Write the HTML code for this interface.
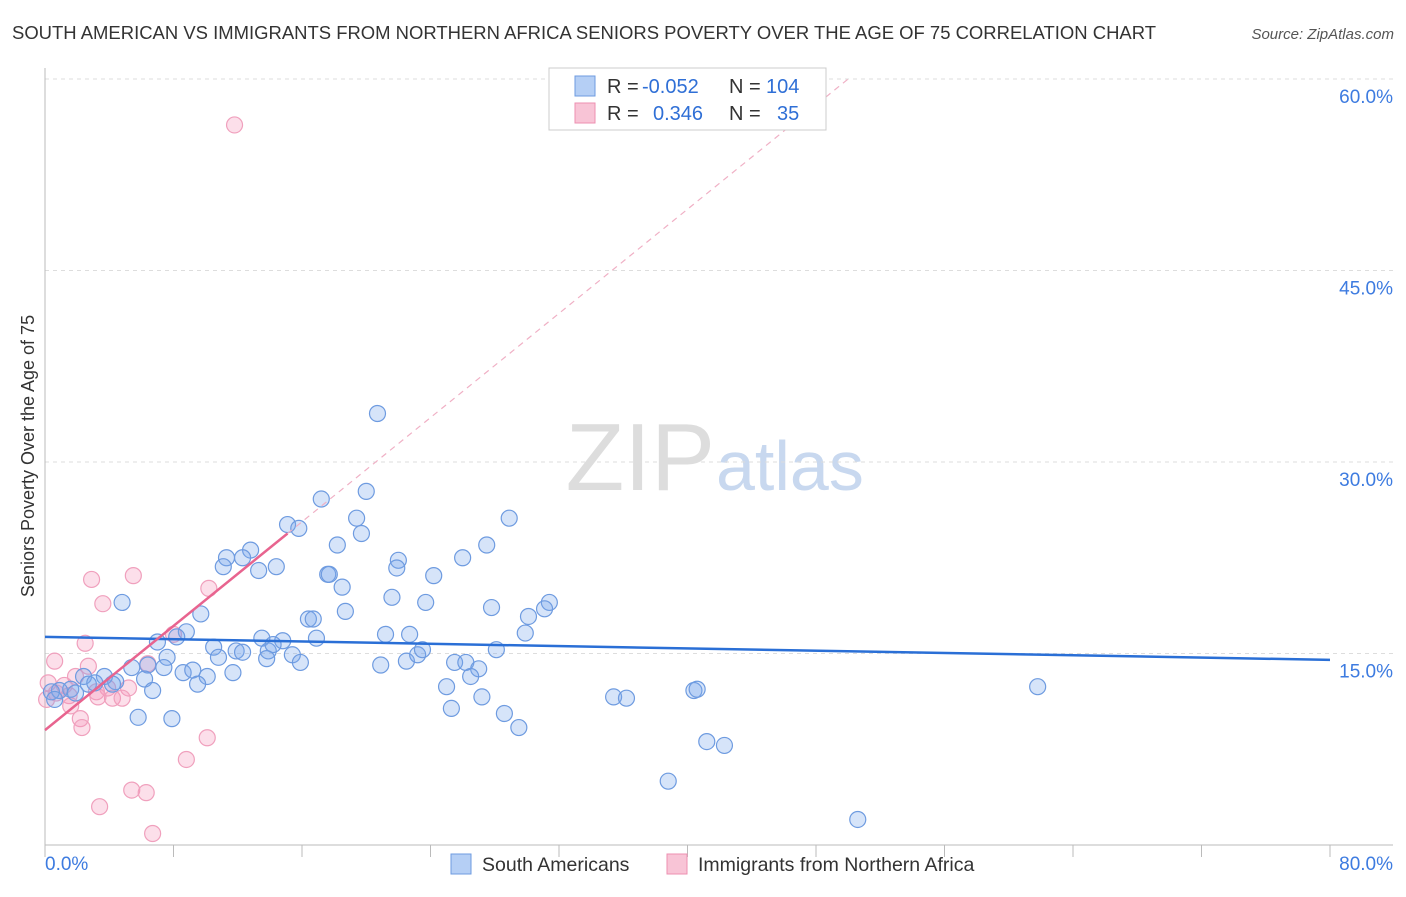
<!DOCTYPE html>
<html><head><meta charset="utf-8"><style>
body{margin:0;background:#fff;font-family:"Liberation Sans",sans-serif;}
svg text{font-family:"Liberation Sans",sans-serif;}
</style></head><body>
<svg id="chart" width="1406" height="892">
<text x="12" y="39" font-size="18" fill="#333" textLength="1144" lengthAdjust="spacingAndGlyphs">SOUTH AMERICAN VS IMMIGRANTS FROM NORTHERN AFRICA SENIORS POVERTY OVER THE AGE OF 75 CORRELATION CHART</text>
<text x="1394" y="39" font-size="15" fill="#555" text-anchor="end" font-style="italic">Source: ZipAtlas.com</text>
<text x="34" y="456" font-size="18" fill="#333" text-anchor="middle" transform="rotate(-90 34 456)">Seniors Poverty Over the Age of 75</text>
<text x="715" y="490" font-size="96" fill="#ddd" text-anchor="end" font-family="Liberation Serif">ZIP</text>
<text x="716" y="490" font-size="70" fill="#c8d8ef">atlas</text>
<g id="grid"></g><g id="axes"></g><g id="marks"></g>
<g>
<rect x="549" y="68" width="277" height="62" fill="#fff" stroke="#ccc"/>
<rect x="575" y="76" width="20" height="20" fill="#b5cff5" stroke="#6e9be0"/>
<rect x="575" y="103" width="20" height="20" fill="#f8c4d6" stroke="#ee8fb0"/>
<text x="607" y="93" font-size="20" fill="#333">R = <tspan fill="#2f6fd6" x="642">-0.052</tspan></text>
<text x="729" y="93" font-size="20" fill="#333">N = <tspan fill="#2f6fd6" x="766">104</tspan></text>
<text x="607" y="120" font-size="20" fill="#333">R = <tspan fill="#2f6fd6" x="653">0.346</tspan></text>
<text x="729" y="120" font-size="20" fill="#333">N = <tspan fill="#2f6fd6" x="777">35</tspan></text>
</g>
<g>
<rect x="451" y="854" width="20" height="20" fill="#b5cff5" stroke="#6e9be0"/>
<text x="482" y="871" font-size="19.5" fill="#333">South Americans</text>
<rect x="667" y="854" width="20" height="20" fill="#f8c4d6" stroke="#ee8fb0"/>
<text x="698" y="871" font-size="19.5" fill="#333">Immigrants from Northern Africa</text>
</g>
</svg>
<script>
const blueX=[20.7,17.2,20.0,15.1,15.8,19.4,19.7,28.9,18.2,27.5,26.0,22.0,11.3,12.8,12.3,11.1,13.3,14.4,17.6,17.7,21.9,24.2,18.5,21.6,23.7,4.8,18.7,27.8,31.4,31.1,30.1,16.4,16.7,9.7,8.8,8.2,7.0,13.5,14.8,16.9,21.2,22.7,29.9,10.5,11.9,12.3,13.9,14.2,15.4,15.9,13.8,10.8,7.6,6.4,5.4,7.4,8.6,9.2,11.7,10.1,9.5,6.2,20.9,22.5,23.2,23.5,25.5,26.2,27.0,26.5,28.1,25.0,27.2,25.3,28.6,29.5,35.4,36.2,40.4,40.6,41.2,42.3,38.8,50.6,61.8,5.8,7.9,6.7,4.4,3.7,2.4,2.7,3.1,1.6,0.9,0.4,0.6,1.9,4.2];
const blueY=[33.8,27.1,27.7,25.1,24.8,25.6,24.4,25.6,23.5,23.5,22.5,22.3,22.5,23.1,22.5,21.8,21.5,21.8,21.2,21.2,21.7,21.1,20.2,19.4,19.0,19.0,18.3,18.6,19.0,18.5,17.9,17.7,17.7,18.1,16.7,16.3,15.9,16.2,16.0,16.2,16.5,16.5,16.6,15.5,15.2,15.1,15.2,15.7,14.9,14.3,14.6,14.7,14.7,14.1,13.9,13.9,13.5,13.7,13.5,13.2,12.6,13.0,14.1,14.4,14.9,15.3,14.3,14.3,13.8,13.2,15.3,12.4,11.6,10.7,10.3,9.2,11.6,11.5,12.1,12.2,8.1,7.8,5.0,2.0,12.4,10.0,9.9,12.1,12.8,13.2,13.2,12.6,12.7,12.2,12.1,12.0,11.4,11.9,12.6];
const pinkX=[11.8,2.9,5.5,10.2,3.6,2.5,8.0,0.6,2.7,6.4,1.9,0.2,1.2,0.7,1.5,3.2,3.9,5.2,4.2,4.8,3.3,2.2,2.3,1.6,10.1,8.8,5.4,6.3,3.4,6.7,0.1];
const pinkY=[56.4,20.8,21.1,20.1,18.9,15.8,16.5,14.4,14.0,14.2,13.2,12.7,12.5,11.9,11.7,12.0,12.3,12.3,11.5,11.5,11.6,9.9,9.2,10.9,8.4,6.7,4.3,4.1,3.0,0.9,11.4];
const yTicks=[15,30,45,60];
const blueTrend=[16.3,14.5];
const pinkTrend=[9.0,1.02];
const NS="http://www.w3.org/2000/svg";
const sx=v=>45+v*(1330-45)/80;
const sy=v=>845-v*(845-79)/60;
function mk(tag,attrs,parent){const e=document.createElementNS(NS,tag);for(const k in attrs)e.setAttribute(k,attrs[k]);document.getElementById(parent).appendChild(e);return e;}
yTicks.forEach(t=>{
 const l=mk('line',{x1:45,x2:1393,y1:sy(t),y2:sy(t),stroke:'#ddd','stroke-dasharray':'4,4'},'grid');
 
 
 const tx=mk('text',{x:1393,y:sy(t)+24,'font-size':19,fill:'#3d7be0','text-anchor':'end'},'grid');
 tx.textContent=t.toFixed(1)+'%';
 
 
});
let a=mk('line',{x1:45,x2:45,y1:68,y2:845,stroke:'#bbb'},'axes');


a=mk('line',{x1:45,x2:1393,y1:845,y2:845,stroke:'#bbb'},'axes');


for(let i=0;i<=10;i++){const t=mk('line',{x1:sx(i*8),x2:sx(i*8),y1:845,y2:857,stroke:'#bbb'},'axes');
 
 }
let xl=mk('text',{x:45,y:870,'font-size':19,fill:'#3d7be0'},'axes');xl.textContent='0.0%';


xl=mk('text',{x:1393,y:870,'font-size':19,fill:'#3d7be0','text-anchor':'end'},'axes');xl.textContent='80.0%';


pinkX.forEach((x,i)=>{const c=mk('circle',{cx:sx(x),cy:sy(pinkY[i]),r:8,fill:'rgba(245,150,185,0.3)',stroke:'#f0a0bd','stroke-width':1.2},'marks');
 
 });
blueX.forEach((x,i)=>{const c=mk('circle',{cx:sx(x),cy:sy(blueY[i]),r:8,fill:'rgba(120,165,235,0.3)',stroke:'#6e9be0','stroke-width':1.2},'marks');
 
 });
let tl=mk('line',{x1:sx(0),y1:sy(blueTrend[0]),x2:sx(80),y2:sy(blueTrend[1]),stroke:'#2a6fd6','stroke-width':2.5},'marks');


const pxEnd=15.1, pxTop=(60-pinkTrend[0])/pinkTrend[1];
tl=mk('line',{x1:sx(0),y1:sy(pinkTrend[0]),x2:sx(pxEnd),y2:sy(pinkTrend[0]+pinkTrend[1]*pxEnd),stroke:'#e8648f','stroke-width':2.5},'marks');


tl=mk('line',{x1:sx(pxEnd),y1:sy(pinkTrend[0]+pinkTrend[1]*pxEnd),x2:sx(pxTop),y2:sy(60),stroke:'#f0b0c5','stroke-width':1.2,'stroke-dasharray':'6,5'},'marks');


</script>
</body></html>
